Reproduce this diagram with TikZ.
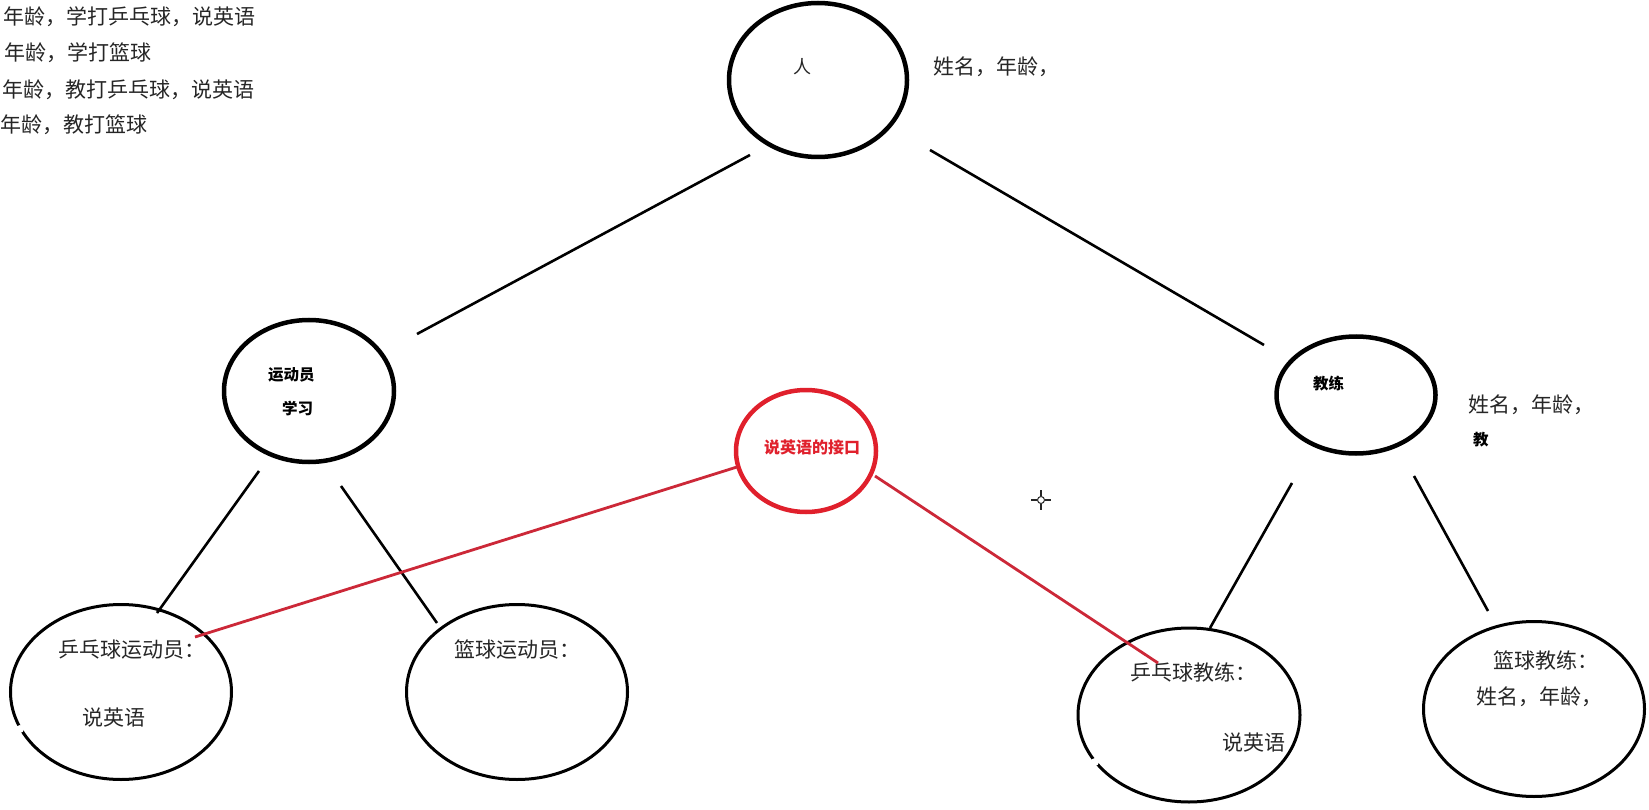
\documentclass[tikz,border=0pt]{standalone}
\usepackage{fontspec}
\setmainfont{Noto Sans CJK SC}
\usetikzlibrary{shapes.geometric,calc}
\definecolor{txt}{HTML}{262626}
\definecolor{redc}{HTML}{E0202C}
\definecolor{redl}{HTML}{CC2838}
\begin{document}
\begin{tikzpicture}[x=1pt,y=-1pt,
  ell/.style={draw=black, ellipse, inner sep=0pt},
  thickell/.style={ell, line width=4.5pt},
  thinell/.style={ell, line width=3pt},
  conn/.style={draw=black, line width=2.6pt},
  redconn/.style={draw=redl, line width=2.8pt},
  plain/.style={inner sep=0pt, text=txt, font=\fontsize{21}{24}\selectfont, anchor=west},
  boldlbl/.style={inner sep=0pt, text=black, font=\fontsize{15.5}{18}\selectfont\bfseries, anchor=west}
]
\useasboundingbox (0,0) rectangle (1649,810);

% top-left notes
\node[plain] (n1) at (3,17) {年龄，学打乒乓球，说英语};
\node[plain] (n2) at (4,53) {年龄，学打篮球};
\node[plain] (n3) at (2,90) {年龄，教打乒乓球，说英语};
\node[plain] (n4) at (0,125) {年龄，教打篮球};

% ellipses
\node[thickell, minimum width=178, minimum height=154] (ren) at (818,80) {};
\node[thickell, minimum width=170, minimum height=142] (ydy) at (309,391) {};
\node[thickell, minimum width=159, minimum height=117] (jl) at (1356,395) {};
\node[ell, draw=redc, line width=4.5pt, minimum width=140, minimum height=122] (jk) at (806,451) {};
\node[thinell, minimum width=221, minimum height=175] (ppy) at (121,692) {};
\node[thinell, minimum width=221, minimum height=175] (lqy) at (517,692) {};
\node[thinell, minimum width=222, minimum height=174] (ppj) at (1189,715) {};
\node[thinell, minimum width=221, minimum height=175] (lqj) at (1534,709) {};

% small breaks in the ellipses
\fill[white] (20,729) circle (4);
\fill[white] (1095,762) circle (4);

% texts
\node[inner sep=0pt, text=txt, font=\fontsize{18}{20}\selectfont] (renT) at (802,67) {人};
\node[plain] (renA) at (933,67) {姓名，年龄，};
\node[boldlbl] (ydyT) at (268,375) {运动员};
\node[boldlbl] (ydyS) at (282,408) {学习};
\node[boldlbl] (jlT) at (1313,384) {教练};
\node[plain] (jlA) at (1468,405) {姓名，年龄，};
\node[boldlbl] (jlS) at (1473,440) {教};
\node[inner sep=0pt, text=redc, font=\fontsize{16}{18}\selectfont\bfseries] (jkT) at (812,447) {说英语的接口};
\node[plain] (ppyT) at (58,650) {乒乓球运动员：};
\node[plain] (ppyS) at (82,718) {说英语};
\node[plain] (lqyT) at (454,650) {篮球运动员：};
\node[plain] (ppjT) at (1130,672) {乒乓球教练：};
\node[plain] (ppjS) at (1222,743) {说英语};
\node[plain] (lqjT) at (1493,660) {篮球教练：};
\node[plain] (lqjA) at (1476,697) {姓名，年龄，};

% connector end points
\coordinate (r1) at (750,155);
\coordinate (y1) at (417,334);
\coordinate (r2) at (930,150);
\coordinate (j1) at (1264,345);
\coordinate (y2) at (259,471);
\coordinate (p1) at (157,613);
\coordinate (y3) at (341,486);
\coordinate (l1) at (437,623);
\coordinate (j2) at (1292,483);
\coordinate (p2) at (1210,628);
\coordinate (j3) at (1414,476);
\coordinate (l2) at (1488,611);
\coordinate (k1) at (737,467);
\coordinate (pa) at (195,637);
\coordinate (k2) at (875,476);
\coordinate (pb) at (1158,663);

\draw[conn] (r1) -- (y1);
\draw[conn] (r2) -- (j1);
\draw[conn] (y2) -- (p1);
\draw[conn] (y3) -- (l1);
\draw[conn] (j2) -- (p2);
\draw[conn] (j3) -- (l2);
\draw[redconn] (k1) -- (pa);
\draw[redconn] (k2) -- (pb);

% cursor mark
\coordinate (cur) at (1041,500);
\draw[line width=1.5pt, black!85] ($(cur)+(-10,0)$) -- ($(cur)+(-4,0)$) ($(cur)+(4,0)$) -- ($(cur)+(10,0)$)
  ($(cur)+(0,-10)$) -- ($(cur)+(0,-4)$) ($(cur)+(0,4)$) -- ($(cur)+(0,10)$);
\draw[line width=1pt, black!85] (cur) circle (3.5);
\end{tikzpicture}
\end{document}
